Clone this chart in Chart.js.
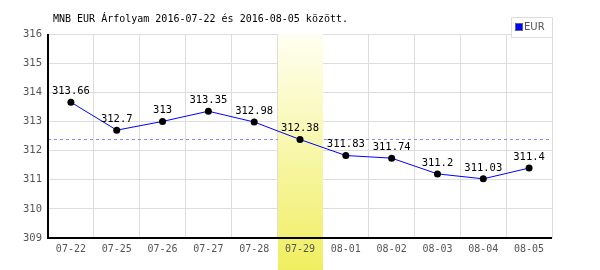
<!DOCTYPE html>
<html><head><meta charset="utf-8">
<script src="https://cdn.jsdelivr.net/npm/chart.js@4/dist/chart.umd.min.js"></script>
<style>html,body{margin:0;padding:0;background:#fff}#wrap{width:600px;height:270px;position:relative}</style>
</head><body><div id="wrap"><canvas id="c" width="600" height="270"></canvas></div>
<script>
const categories = ['07-22','07-25','07-26','07-27','07-28','07-29','08-01','08-02','08-03','08-04','08-05'];
const eurValues = [313.66,312.7,313,313.35,312.98,312.38,311.83,311.74,311.2,311.03,311.4];
const valueLabels = ['313.66','312.7','313','313.35','312.98','312.38','311.83','311.74','311.2','311.03','311.4'];
const yTicks = [309,310,311,312,313,314,315,316];
const highlightIndex = 5;
const referenceValue = 312.38;
const titleText = 'MNB EUR Árfolyam 2016-07-22 és 2016-08-05 között.';
const seriesName = 'EUR';
const MONO = '"DejaVu Sans Mono", "Liberation Mono", monospace';

const bgPlugin = {
  id: 'bg',
  beforeDatasetsDraw(chart) {
    const {ctx, chartArea, scales} = chart;
    const x = scales.x;
    const w = (chartArea.right - chartArea.left) / categories.length;
    const cx = x.getPixelForValue(highlightIndex);
    ctx.save();
    const ry = Math.round(scales.y.getPixelForValue(referenceValue)) + 0.5;
    ctx.strokeStyle = '#8888ff';
    ctx.lineWidth = 1;
    ctx.setLineDash([3,3]);
    ctx.beginPath();
    ctx.moveTo(chartArea.left, ry);
    ctx.lineTo(chartArea.right, ry);
    ctx.stroke();
    ctx.setLineDash([]);
    const g = ctx.createLinearGradient(0, chartArea.top, 0, chart.height);
    g.addColorStop(0, '#fffff2');
    g.addColorStop(1, '#f0ee60');
    ctx.fillStyle = g;
    ctx.fillRect(Math.round(cx - w/2)+1, chartArea.top, Math.round(w)-1, chart.height - chartArea.top);
    ctx.fillStyle = '#555';
    ctx.font = '10px ' + MONO;
    ctx.textAlign = 'center';
    ctx.textBaseline = 'middle';
    ctx.fillText(categories[highlightIndex], cx, chartArea.bottom + 11);
    ctx.restore();
  },
  afterDatasetsDraw(chart) {
    const {ctx, chartArea} = chart;
    ctx.save();
    ctx.strokeStyle = '#000';
    ctx.lineWidth = 2;
    ctx.beginPath();
    ctx.moveTo(chartArea.left, chartArea.top);
    ctx.lineTo(chartArea.left, chartArea.bottom);
    ctx.lineTo(chartArea.right, chartArea.bottom);
    ctx.stroke();
    const meta = chart.getDatasetMeta(0);
    ctx.font = '10.5px ' + MONO;
    ctx.fillStyle = '#000';
    ctx.textAlign = 'center';
    ctx.textBaseline = 'middle';
    meta.data.forEach((p, i) => {
      ctx.fillText(valueLabels[i], p.x, p.y - 11);
    });
    ctx.textAlign = 'left';
    ctx.font = '10px ' + MONO;
    ctx.fillText(titleText, 53, 19);
    ctx.strokeStyle = '#dddddd';
    ctx.lineWidth = 1;
    ctx.fillStyle = '#fff';
    ctx.fillRect(511.5, 17.5, 41, 20);
    ctx.strokeRect(511.5, 17.5, 41, 20);
    ctx.fillStyle = '#0000ff';
    ctx.fillRect(516, 24, 6, 6);
    ctx.strokeStyle = '#666';
    ctx.strokeRect(515.5, 23.5, 7, 7);
    ctx.fillStyle = '#555';
    ctx.font = '10px "DejaVu Sans", sans-serif';
    ctx.textBaseline = 'middle';
    ctx.fillText(seriesName, 524, 27.5);
    ctx.restore();
  }
};

new Chart(document.getElementById('c'), {
  type: 'line',
  data: {
    labels: categories,
    datasets: [{
      label: seriesName,
      data: eurValues,
      borderColor: '#0000ff',
      borderWidth: 1,
      pointBackgroundColor: '#000',
      pointBorderColor: '#000',
      pointRadius: 3.5,
      pointBorderWidth: 0,
      tension: 0,
      fill: false
    }]
  },
  options: {
    responsive: false,
    animation: false,
    layout: {padding: {top: 34, right: 48, left: 0, bottom: 0}},
    plugins: {legend: {display: false}, tooltip: {enabled: false}, title: {display: false}},
    scales: {
      x: {
        offset: true,
        grid: {color: '#dddddd', offset: true, drawTicks: false, lineWidth: 1},
        border: {display: false},
        ticks: {color: '#555', font: {family: MONO, size: 10}, padding: 5, maxRotation: 0, autoSkip: false},
        afterFit(s) { s.height = 32; }
      },
      y: {
        min: 309, max: 316,
        afterBuildTicks(s) { s.ticks = yTicks.map(v => ({value: v})); },
        grid: {color: '#dddddd', drawTicks: false, lineWidth: 1},
        border: {display: false},
        ticks: {color: '#555', font: {family: MONO, size: 10.5}, padding: 6},
        afterFit(s) { s.width = 48; }
      }
    }
  },
  plugins: [bgPlugin]
});
</script></body></html>
